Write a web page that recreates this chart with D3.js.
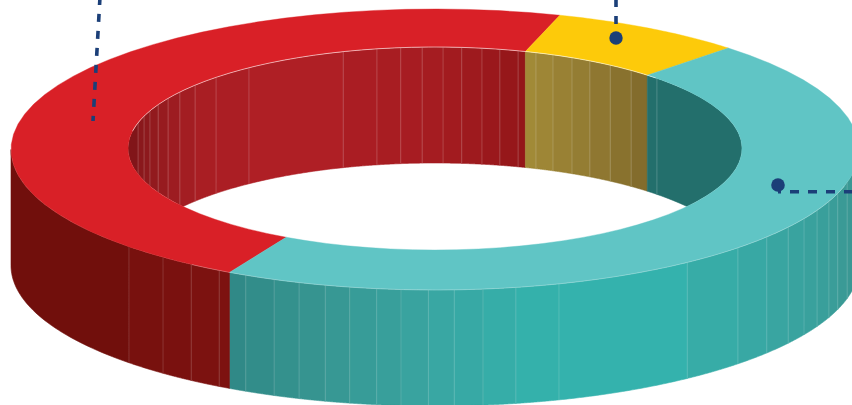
<!DOCTYPE html>
<html>
<head>
<meta charset="utf-8">
<script src="https://cdn.jsdelivr.net/npm/d3@7"></script>
<style>
html, body { margin: 0; padding: 0; background: #fff; overflow: hidden; }
svg { display: block; }
</style>
</head>
<body>
<script>
// share of each slice (percent)
const sliceNames = ["Red", "Yellow", "Teal"];
const sliceValues = [46.7, 7.4, 45.9];

// where the faint seams sit on the walls, in degrees clockwise from the top
const outerSeams = [103.6, 108.2, 111.7, 115.7, 119.5, 123.6, 128.5, 134.4, 143.5, 163, 169, 173.5, 177.4, 180.9,
    184.6, 187.9, 191.6, 195, 198.7, 202.3, 206.5, 210.6, 215.1, 219.9, 226.2];
const innerSeams = [-75.3, -71.4, -68.2, -64.4, -60.4, -56.2, -51.4, -45.5, -37.3, -17.4, -10.9, -6.4, -2.4,
    1.5, 5, 8.8, 12.2, 15.7, 19.2, 22.6, 26.5, 30.3, 34.8, 39.7, 46.3];

const width = 852, height = 405;
const cx = 435, depth = 116;
const outer = {rx: 424, ry: 140.5, cy: 149.5};
const inner = {rx: 307, ry: 101.5, cy: 148.5};
const startDeg = 209;

const topColors = ["#d92027", "#fdca0a", "#60c5c5"];

// wall shading, by angle
const outerShade = d3.scaleLinear()
    .domain([90, 105, 135, 160, 180, 198, 209, 209.01, 240, 270])
    .range(["#3a9692", "#3a9a96", "#38aaa6", "#32b5af", "#39a6a2", "#36938f", "#2f8886", "#7d1210", "#730f0c", "#6c0e0b"]);
const innerRedShade = d3.scaleLinear()
    .domain([-90, -70, -50, -30, 0, 17])
    .range(["#7a1317", "#8d191d", "#a81e23", "#b01f25", "#a51c21", "#931619"]);
const innerYellowShade = d3.scaleLinear().domain([17, 44]).range(["#a38b38", "#80692b"]);
const innerTealShade = d3.scaleLinear().domain([44, 90]).range(["#236f6c", "#236f6c"]);

const svg = d3.select("body")
    .append("svg")
    .attr("width", width)
    .attr("height", height);

const slices = d3.pie()
    .sort(null)
    .startAngle(startDeg * Math.PI / 180)
    .endAngle((startDeg + 360) * Math.PI / 180)
    .value(d => d)(sliceValues);

const toDeg = r => r * 180 / Math.PI;
const sliceBreaks = slices.map(s => toDeg(s.startAngle) % 360);

// project an angle on to a ring ellipse
const px = (e, a) => cx + e.rx * Math.sin(a * Math.PI / 180);
const py = (e, a) => e.cy - e.ry * Math.cos(a * Math.PI / 180);
const line = d3.line();

function arcPoints(e, a0, a1, dy) {
    return d3.range(0, 1.0001, 1 / 40).map(t => {
        const a = a0 + (a1 - a0) * t;
        return [px(e, a), py(e, a) + dy];
    });
}

function strips(e, seams, from, to) {
    const signed = sliceBreaks.map(b => (b > 180 && to < 180) ? b - 360 : b);
    const edges = Array.from(new Set([from, to, ...seams, ...signed]))
        .filter(a => a >= from && a <= to)
        .sort(d3.ascending);
    return d3.pairs(edges);
}

function wallPath(e, a0, a1) {
    return line(arcPoints(e, a0, a1, 0).concat(arcPoints(e, a1, a0, depth))) + "Z";
}

// inner wall only shows through the hole
svg.append("clipPath")
    .attr("id", "hole")
    .append("ellipse")
    .attr("cx", cx)
    .attr("cy", inner.cy)
    .attr("rx", inner.rx)
    .attr("ry", inner.ry);

const innerFill = function(a) {
    if (a < sliceBreaks[1]) return innerRedShade(a);
    if (a < sliceBreaks[2]) return innerYellowShade(a);
    return innerTealShade(a);
};

const innerWall = svg.append("g").attr("clip-path", "url(#hole)");
innerWall.selectAll("path.strip")
    .data(strips(inner, innerSeams, -90, 90))
    .join("path")
    .attr("class", "strip")
    .attr("d", d => wallPath(inner, d[0], d[1]))
    .attr("fill", d => innerFill((d[0] + d[1]) / 2))
    .attr("stroke", d => innerFill((d[0] + d[1]) / 2))
    .attr("stroke-width", 0.6);

innerWall.selectAll("line.seam")
    .data(innerSeams)
    .join("line")
    .attr("class", "seam")
    .attr("x1", d => px(inner, d))
    .attr("x2", d => px(inner, d))
    .attr("y1", d => py(inner, d))
    .attr("y2", d => py(inner, d) + depth)
    .attr("stroke", "#fff")
    .attr("stroke-opacity", 0.24)
    .attr("stroke-width", 0.8);

// outer wall, front half of the ring
svg.append("g").selectAll("path")
    .data(strips(outer, outerSeams, 90, 270))
    .join("path")
    .attr("d", d => wallPath(outer, d[0], d[1]))
    .attr("fill", d => outerShade((d[0] + d[1]) / 2))
    .attr("stroke", d => outerShade((d[0] + d[1]) / 2))
    .attr("stroke-width", 0.6);

svg.append("g").selectAll("line")
    .data(outerSeams)
    .join("line")
    .attr("x1", d => px(outer, d))
    .attr("x2", d => px(outer, d))
    .attr("y1", d => py(outer, d))
    .attr("y2", d => py(outer, d) + depth)
    .attr("stroke", "#fff")
    .attr("stroke-opacity", 0.2)
    .attr("stroke-width", 0.8);

// top face of the ring
svg.append("g").selectAll("path")
    .data(slices)
    .join("path")
    .attr("d", d => {
        const a0 = toDeg(d.startAngle), a1 = toDeg(d.endAngle);
        return line(arcPoints(outer, a0, a1, 0).concat(arcPoints(inner, a1, a0, 0))) + "Z";
    })
    .attr("fill", (d, i) => topColors[i])
    .attr("stroke", (d, i) => topColors[i])
    .attr("stroke-width", 0.4);

// thin highlight where the top face meets the walls
svg.append("path")
    .attr("d", line(arcPoints(inner, -80, 46, 0)))
    .attr("fill", "none")
    .attr("stroke", "#fff")
    .attr("stroke-opacity", 0.7)
    .attr("stroke-width", 0.8);
svg.append("path")
    .attr("d", line(arcPoints(outer, 105, 215, 0)))
    .attr("fill", "none")
    .attr("stroke", "#fff")
    .attr("stroke-opacity", 0.35)
    .attr("stroke-width", 0.7);

// leader lines
const navy = "#1b3f78";
const leaders = svg.append("g")
    .attr("fill", "none")
    .attr("stroke", navy)
    .attr("stroke-width", 3.6)
    .attr("stroke-dasharray", "8 9");

leaders.append("line").attr("x1", 100).attr("y1", -3).attr("x2", 93).attr("y2", 121);
leaders.append("line").attr("x1", 616).attr("y1", -1).attr("x2", 616).attr("y2", 26);
leaders.append("line").attr("x1", 778).attr("y1", 191.7).attr("x2", 852).attr("y2", 191.7)
    .attr("stroke-dasharray", "9 9")
    .attr("stroke-dashoffset", 6);

svg.append("circle").attr("cx", 616).attr("cy", 38).attr("r", 6.7).attr("fill", navy);
svg.append("circle").attr("cx", 778).attr("cy", 185).attr("r", 6.8).attr("fill", navy);
</script>
</body>
</html>
